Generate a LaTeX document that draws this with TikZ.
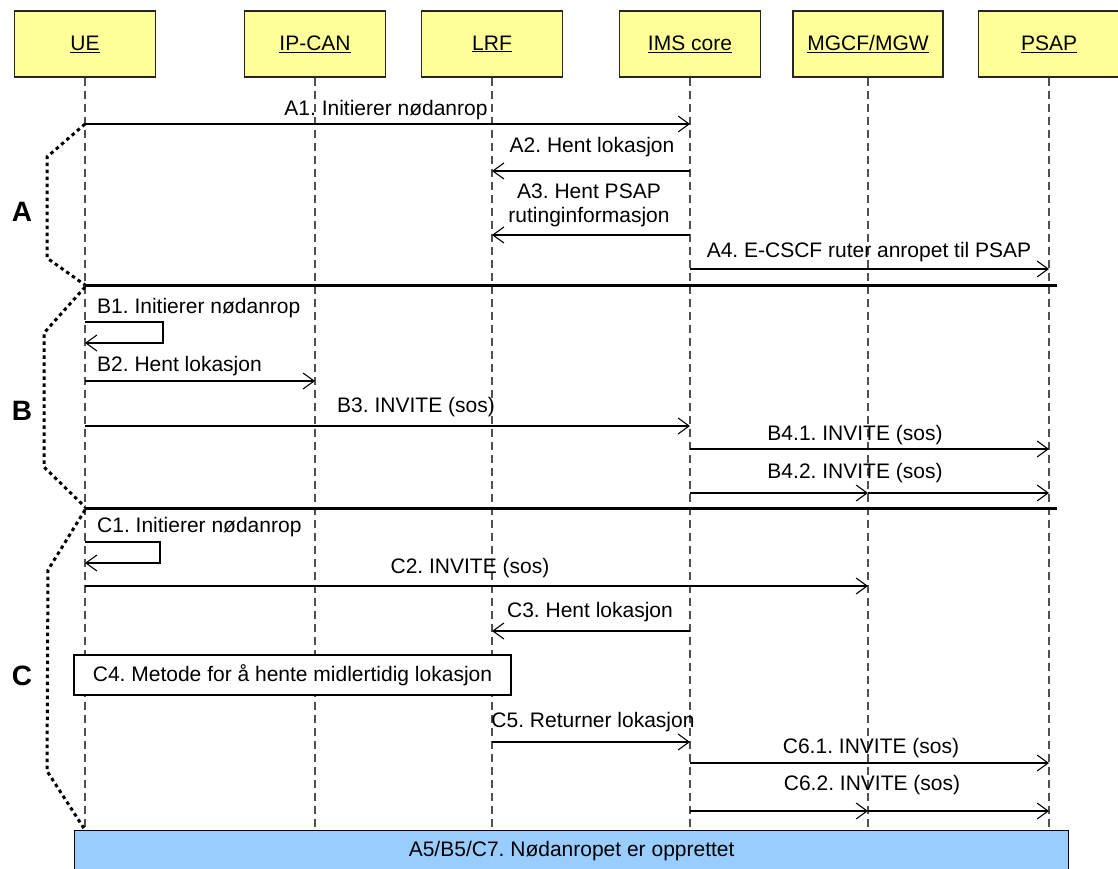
\documentclass[tikz,border=0pt]{standalone}
\usepackage{fontspec}
\setmainfont{Liberation Sans}
\usetikzlibrary{arrows.meta}
\definecolor{hdr}{RGB}{255,255,153}
\definecolor{donec}{RGB}{153,204,255}
\definecolor{lifec}{RGB}{80,80,80}
\frenchspacing
\begin{document}
\begin{tikzpicture}[x=1pt,y=-1pt,
  txt/.style={font=\fontsize{21}{24}\selectfont, inner sep=0pt, align=center},
  head/.style={txt, draw=black!85, line width=1.2pt, fill=hdr, minimum height=66pt, minimum width=141pt},
  life/.style={draw=lifec, line width=1.3pt, dash pattern=on 8pt off 5pt},
  msg/.style={line width=1.1pt, -{Straight Barb[length=11pt,width=16pt]}},
  sepline/.style={line width=3pt},
  brace/.style={line width=3pt, dash pattern=on 3.5pt off 3.5pt},
  grp/.style={font=\fontsize{28}{28}\selectfont\bfseries, inner sep=0pt},
  lbl/.style={txt},
  lbll/.style={txt, anchor=west},
  stepbox/.style={txt, draw, line width=1.3pt, fill=white}
]
\useasboundingbox (0,0) rectangle (1118,869);

% headers
\node[head] (ue) at (85,44) {\underline{UE}};
\node[head] (ipcan) at (315,44) {\underline{IP-CAN}};
\node[head] (lrf) at (492,44) {\underline{LRF}};
\node[head] (ims) at (690,44) {\underline{IMS core}};
\node[head, minimum width=150pt] (mgcf) at (868,44) {\underline{MGCF/MGW}};
\node[head] (psap) at (1049,44) {\underline{PSAP}};

% lifelines
\foreach \n in {ue,ipcan,lrf,ims,mgcf,psap}
  \draw[life] (\n.south) -- (\n |- 0,830);

% ---- A ----
\draw[msg] (ue |- 0,124) -- (ims |- 0,124);
\node[lbl] (la1) at (386,110) {A1. Initierer nødanrop};
\draw[msg] (ims |- 0,171) -- (lrf |- 0,171);
\node[lbl] (la2) at (592,147) {A2. Hent lokasjon};
\draw[msg] (ims |- 0,235) -- (lrf |- 0,235);
\node[lbl] (la3) at (589,205) {A3. Hent PSAP\\rutinginformasjon};
\draw[msg] (ims |- 0,269) -- (psap |- 0,269);
\node[lbl] (la4) at (869,252) {A4. E-CSCF ruter anropet til PSAP};
\coordinate (endA) at (1057,285);
\draw[sepline] (ue |- 0,285) -- (endA);

% ---- B ----
\node[lbll] (lb1) at (97,308) {B1. Initierer nødanrop};
\draw[msg] (ue |- 0,322) -| (163,343) -- (ue |- 0,343);
\node[lbll] (lb2) at (97,366) {B2. Hent lokasjon};
\draw[msg] (ue |- 0,381) -- (ipcan |- 0,381);
\node[lbl] (lb3) at (416,407) {B3. INVITE (sos)};
\draw[msg] (ue |- 0,426) -- (ims |- 0,426);
\node[lbl] (lb41) at (855,435) {B4.1. INVITE (sos)};
\draw[msg] (ims |- 0,449) -- (psap |- 0,449);
\node[lbl] (lb42) at (855,473) {B4.2. INVITE (sos)};
\draw[msg] (ims |- 0,493) -- (mgcf |- 0,493);
\draw[msg] (mgcf |- 0,493) -- (psap |- 0,493);
\coordinate (endB) at (1057,508);
\draw[sepline] (ue |- 0,508) -- (endB);

% ---- C ----
\node[lbll] (lc1) at (97,527) {C1. Initierer nødanrop};
\draw[msg] (ue |- 0,542) -| (160,563) -- (ue |- 0,563);
\node[lbl] (lc2) at (470,568) {C2. INVITE (sos)};
\draw[msg] (ue |- 0,586) -- (mgcf |- 0,586);
\node[lbl] (lc3) at (590,612) {C3. Hent lokasjon};
\draw[msg] (ims |- 0,631) -- (lrf |- 0,631);
\node[stepbox, minimum width=437pt, minimum height=40pt] (c4) at (292.5,675) {C4. Metode for å hente midlertidig lokasjon};
\node[lbl] (lc5) at (593,722) {C5. Returner lokasjon};
\draw[msg] (lrf |- 0,742) -- (ims |- 0,742);
\node[lbl] (lc61) at (871,748) {C6.1. INVITE (sos)};
\draw[msg] (ims |- 0,763) -- (psap |- 0,763);
\node[lbl] (lc62) at (872,785) {C6.2. INVITE (sos)};
\draw[msg] (ims |- 0,811) -- (mgcf |- 0,811);
\draw[msg] (mgcf |- 0,811) -- (psap |- 0,811);

% final box
\node[stepbox, fill=donec, minimum width=994pt, minimum height=40pt, anchor=north west] (fin) at (74,830) {};
\node[lbl] (fint) at (fin.center) {A5/B5/C7. Nødanropet er opprettet};

% braces
\draw[brace] (ue |- 0,124) -- (47,157) -- (47,258) -- (ue |- 0,285);
\draw[brace] (ue |- 0,287) -- (44,333) -- (44,467) -- (ue |- 0,507);
\draw[brace] (ue |- 0,510) -- (48,570) -- (47,771) -- (ue |- 0,830);
\node[grp] (gA) at (22,212) {A};
\node[grp] (gB) at (22,411) {B};
\node[grp] (gC) at (22,676) {C};
\end{tikzpicture}
\end{document}
